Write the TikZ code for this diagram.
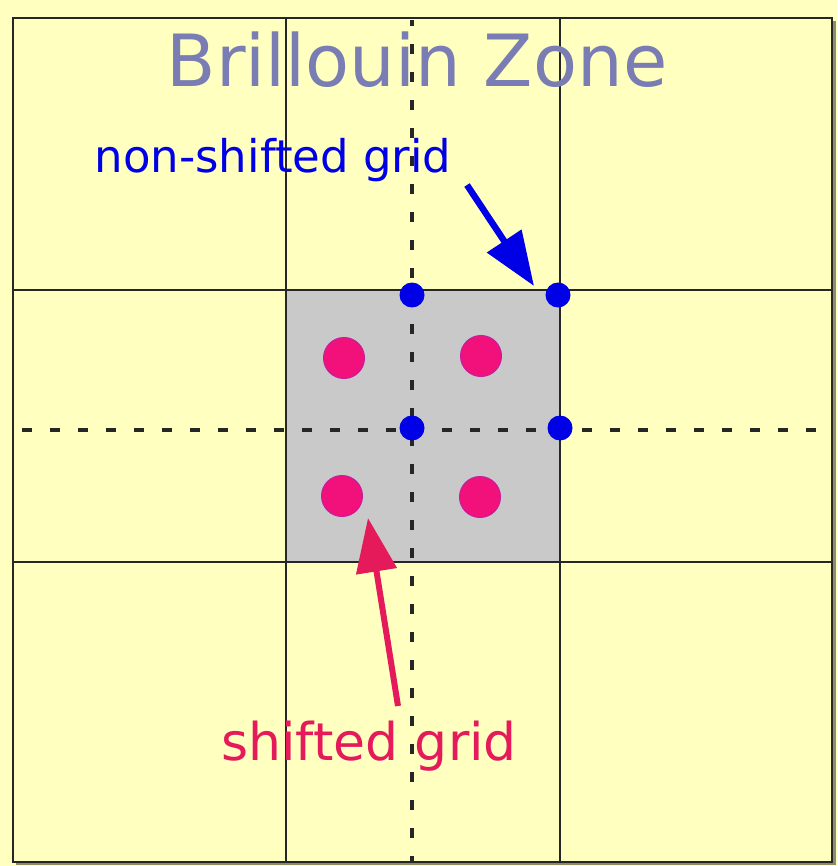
\documentclass[tikz,border=0pt]{standalone}
\usepackage{fontspec}
\setmainfont{DejaVu Sans}
\usetikzlibrary{arrows.meta}
\definecolor{bgyel}{HTML}{FFFFC0}
\definecolor{cellyel}{HTML}{FFFFC0}
\definecolor{zonegray}{HTML}{C9C9C9}
\definecolor{titlecol}{HTML}{7A7DB3}
\definecolor{nsblue}{HTML}{0000E6}
\definecolor{shpink}{HTML}{E41A5A}
\definecolor{dotpink}{HTML}{F2107A}
\definecolor{dotedge}{HTML}{C020A0}
\begin{document}
\begin{tikzpicture}[x=1pt,y=-1pt,
  gridline/.style={draw=black!85, line width=1.8pt},
  dashline/.style={draw=black!85, line width=4pt, dash pattern=on 10pt off 18pt},
  bluedot/.style={circle, fill=nsblue, inner sep=0pt, minimum size=25pt},
  pinkdot/.style={circle, fill=dotpink, draw=dotedge, line width=1pt, inner sep=0pt, minimum size=41pt},
  blabel/.style={font=\fontsize{45}{50}\selectfont, text=nsblue, inner sep=0pt, anchor=base},
  plabel/.style={font=\fontsize{52}{56}\selectfont, text=shpink, inner sep=0pt, anchor=base},
  bigarrow/.style={line width=6.5pt, -{Triangle[length=54pt, width=40pt]}}
]
\useasboundingbox (0,0) rectangle (837,866);
\fill[bgyel] (0,0) rectangle (837,866);
% shadow
\fill[black!45!bgyel] (16,21) rectangle (836,865);
\fill[cellyel] (13,18) rectangle (832,862);
% central cell
\fill[zonegray] (286,290) rectangle (560,562);
% grid lines
\draw[gridline] (13,18) rectangle (832,862);
\draw[gridline] (286,18) -- (286,862);
\draw[gridline] (560,18) -- (560,862);
\draw[gridline] (13,290) -- (832,290);
\draw[gridline] (13,562) -- (832,562);
% dashed axes
\draw[dashline, dash phase=4pt] (412,20) -- (412,862);
\draw[dashline] (22,430) -- (832,430);
% title
\node[font=\fontsize{72}{80}\selectfont, text=titlecol, inner sep=0pt, anchor=base] (title) at (417,87) {Brillouin Zone};
% non-shifted grid points
\node[bluedot] (b1) at (412,295) {};
\node[bluedot] (b2) at (558,295) {};
\node[bluedot] (b3) at (412,428) {};
\node[bluedot] (b4) at (560,428) {};
% shifted grid points
\node[pinkdot] (p1) at (344,358) {};
\node[pinkdot] (p2) at (481,356) {};
\node[pinkdot] (p3) at (342,496) {};
\node[pinkdot] (p4) at (480,497) {};
% labels
\node[blabel] (nslab) at (273,173) {non-shifted grid};
\node[plabel] (shlab) at (369,760) {shifted grid};
% arrows
\coordinate (nsstart) at (467,185);
\coordinate (nstip) at (534,286);
\coordinate (shstart) at (398,706);
\coordinate (shtip) at (368,518);
\draw[bigarrow, draw=nsblue, fill=nsblue] (nsstart) -- (nstip);
\draw[bigarrow, line width=6pt, draw=shpink, fill=shpink] (shstart) -- (shtip);
\end{tikzpicture}
\end{document}
